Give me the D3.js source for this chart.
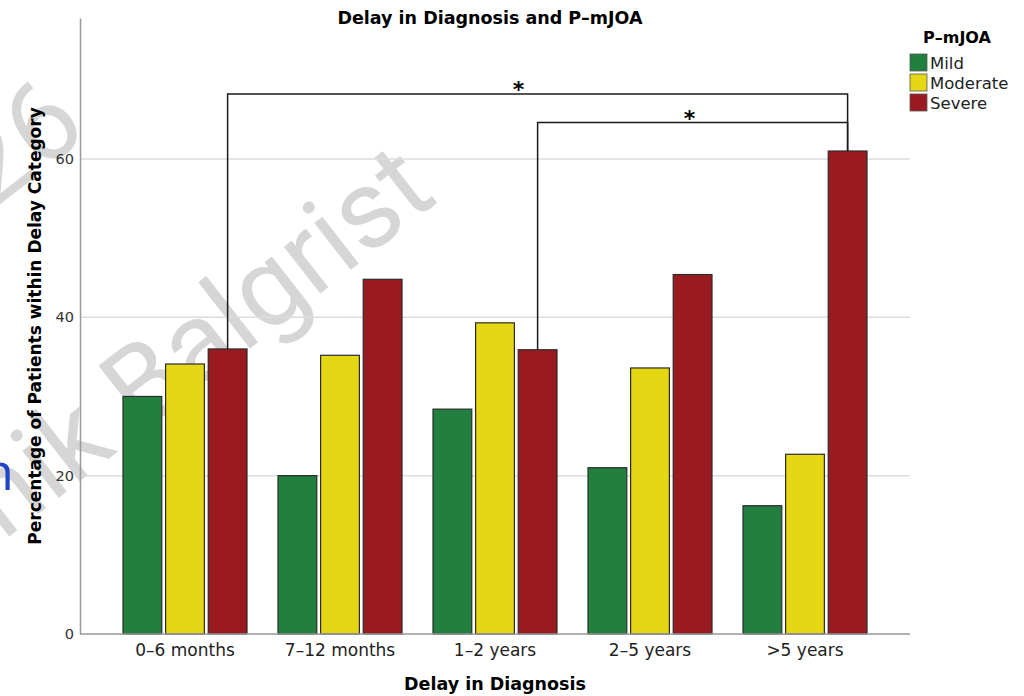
<!DOCTYPE html>
<html>
<head>
<meta charset="utf-8">
<script src="https://cdn.jsdelivr.net/npm/d3@7"></script>
<style>
  body { margin: 0; background: #fff; }
  svg { display: block; font-family: "DejaVu Sans", Verdana, sans-serif; }
</style>
</head>
<body>
<div class="chart"></div>
<script>
// data
var categories = ["0–6 months", "7–12 months", "1–2 years", "2–5 years", ">5 years"];
var severities = ["Mild", "Moderate", "Severe"];
var mildValues = [30.0, 20.0, 28.4, 21.0, 16.2];
var moderateValues = [34.1, 35.2, 39.3, 33.6, 22.7];
var severeValues = [36.0, 44.8, 35.9, 45.4, 61.0];
var yTicks = [0, 20, 40, 60];
// significance brackets: [from category, to category, bracket height]
var brackets = [
  ["0–6 months", ">5 years", 68.2],
  ["1–2 years", ">5 years", 64.6]
];

var colors = {
  Mild: "#21803d",
  Moderate: "#e6d714",
  Severe: "#9a1b1f"
};

var svgWidth = 1024;
var svgHeight = 696;

var svg = d3.select(".chart")
  .append("svg")
  .attr("width", svgWidth)
  .attr("height", svgHeight);

// watermark behind everything
var wm = svg.append("g")
  .attr("fill", "#d6d6d6")
  .style("font-family", "Roboto, 'Open Sans', sans-serif")
  .style("font-weight", "400");

wm.append("text")
  .attr("transform", "translate(90,134) rotate(-38)")
  .attr("text-anchor", "end")
  .style("font-size", "112px")
  .text("2026");

wm.append("text")
  .attr("transform", "translate(440,200) rotate(-38)")
  .attr("text-anchor", "end")
  .style("font-size", "112px")
  .text("Klinik Balgrist");

// the clipped blue letter at the left border
svg.append("text")
  .attr("x", -18)
  .attr("y", 490)
  .attr("fill", "#1f45c8")
  .style("font-family", "'Open Sans', sans-serif")
  .style("font-size", "52px")
  .text("n");

var plotLeft = 80;
var plotRight = 910;
var plotTop = 18;
var plotBottom = 634;

var x0 = d3.scaleBand()
  .domain(categories)
  .range([107.5, 882.5])
  .paddingInner(0.2)
  .paddingOuter(0.1);

var x1 = d3.scaleBand()
  .domain(severities)
  .range([0, x0.bandwidth()])
  .paddingInner(0.09);

var y = d3.scaleLinear()
  .domain([0, 77.8])
  .range([plotBottom, plotTop]);

// gridlines
svg.append("g")
  .selectAll("line")
  .data(yTicks.filter(d => d > 0))
  .enter()
  .append("line")
  .attr("x1", plotLeft)
  .attr("x2", plotRight)
  .attr("y1", d => y(d))
  .attr("y2", d => y(d))
  .attr("stroke", "#dcdcdc")
  .attr("stroke-width", 1.5);

// y axis
var leftAxis = d3.axisLeft(y).tickValues(yTicks).tickSize(0).tickPadding(6);
var yAxis = svg.append("g")
  .attr("transform", `translate(${plotLeft},0)`)
  .call(leftAxis);
yAxis.select(".domain").attr("stroke", "#999").attr("stroke-width", 1.5);
yAxis.selectAll("text")
  .attr("fill", "#333")
  .style("font-family", "'DejaVu Sans', sans-serif")
  .style("font-size", "14.5px");

// bars
var rows = categories.map(function (c, i) {
  return { category: c, Mild: mildValues[i], Moderate: moderateValues[i], Severe: severeValues[i] };
});

var groups = svg.append("g")
  .selectAll("g")
  .data(rows)
  .enter()
  .append("g")
  .attr("transform", d => `translate(${x0(d.category)},0)`);

groups.selectAll("rect")
  .data(d => severities.map(s => ({ key: s, value: d[s] })))
  .enter()
  .append("rect")
  .attr("x", d => x1(d.key))
  .attr("y", d => y(d.value))
  .attr("width", x1.bandwidth())
  .attr("height", d => y(0) - y(d.value))
  .attr("fill", d => colors[d.key])
  .attr("stroke", "#2b2b2b")
  .attr("stroke-width", 1.2);

// x axis
var bottomAxis = d3.axisBottom(x0).tickSize(0).tickPadding(10);
var xAxis = svg.append("g")
  .attr("transform", `translate(0,${plotBottom})`)
  .call(bottomAxis);
xAxis.select(".domain").remove();
xAxis.append("line")
  .attr("x1", plotLeft)
  .attr("x2", plotRight)
  .attr("stroke", "#999")
  .attr("stroke-width", 1.5);
xAxis.selectAll("text")
  .attr("fill", "#222")
  .style("font-family", "'DejaVu Sans', sans-serif")
  .style("font-size", "17px");

// significance brackets
var starOffsets = [-19, -3];
function redCenter(cat) {
  return x0(cat) + x1("Severe") + x1.bandwidth() / 2;
}
function redTop(cat) {
  return y(severeValues[categories.indexOf(cat)]);
}

brackets.forEach(function (b, i) {
  var xa = redCenter(b[0]), xb = redCenter(b[1]), yy = y(b[2]);
  svg.append("path")
    .attr("d", `M${xa},${redTop(b[0])}V${yy}H${xb}V${redTop(b[1])}`)
    .attr("fill", "none")
    .attr("stroke", "#1a1a1a")
    .attr("stroke-width", 1.5);
  svg.append("text")
    .attr("x", (xa + xb) / 2 + starOffsets[i])
    .attr("y", yy + 3)
    .attr("text-anchor", "middle")
    .style("font-size", "22px")
    .style("font-weight", "bold")
    .text("*");
});

// titles
svg.append("text")
  .attr("x", 490)
  .attr("y", 24)
  .attr("text-anchor", "middle")
  .style("font-size", "17.5px")
  .style("font-weight", "bold")
  .text("Delay in Diagnosis and P–mJOA");

svg.append("text")
  .attr("x", 495)
  .attr("y", 690)
  .attr("text-anchor", "middle")
  .style("font-size", "17.5px")
  .style("font-weight", "bold")
  .text("Delay in Diagnosis");

svg.append("text")
  .attr("transform", "translate(41,326) rotate(-90)")
  .attr("text-anchor", "middle")
  .style("font-size", "17px")
  .style("font-weight", "bold")
  .text("Percentage of Patients within Delay Category");

// legend
var legend = svg.append("g").attr("transform", "translate(910,0)");
legend.append("text")
  .attr("x", 13)
  .attr("y", 43)
  .style("font-size", "16px")
  .style("font-weight", "bold")
  .text("P–mJOA");

var items = legend.selectAll(".item")
  .data(severities)
  .enter()
  .append("g")
  .attr("class", "item")
  .attr("transform", (d, i) => `translate(0,${54 + i * 20})`);

items.append("rect")
  .attr("width", 17)
  .attr("height", 17)
  .attr("fill", d => colors[d])
  .attr("stroke", "#555")
  .attr("stroke-width", 0.8);

items.append("text")
  .attr("x", 20)
  .attr("y", 15)
  .style("font-size", "16.5px")
  .attr("fill", "#222")
  .text(d => d);
</script>
</body>
</html>
